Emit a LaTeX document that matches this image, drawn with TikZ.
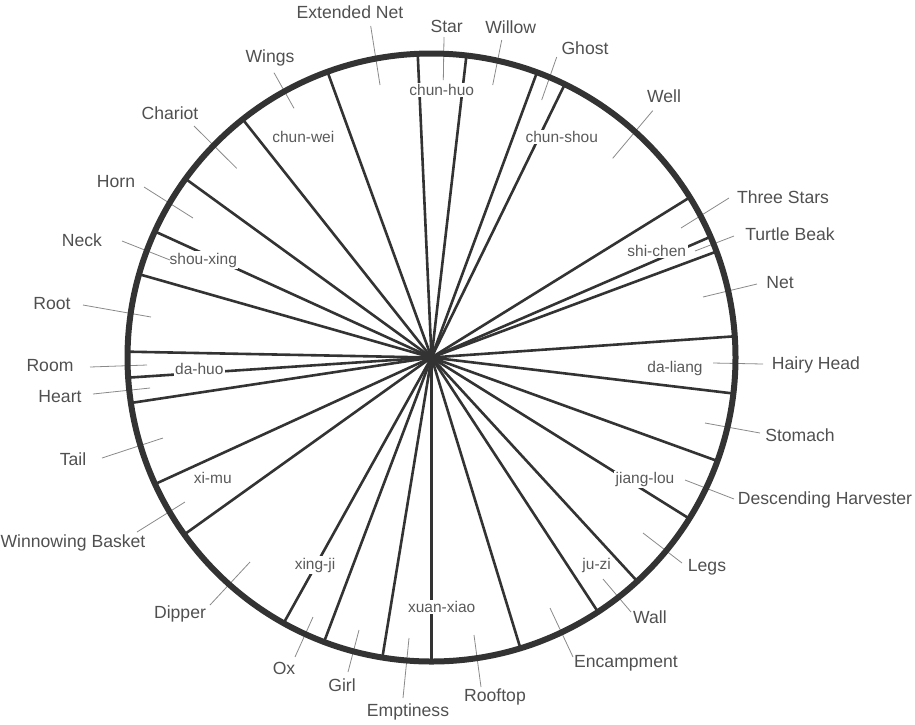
\documentclass[tikz,border=0pt]{standalone}
\usepackage{fontspec}
\setmainfont{Liberation Sans}
\definecolor{spokecol}{HTML}{333333}
\definecolor{leadcol}{HTML}{8A8A8A}
\definecolor{labcol}{HTML}{505050}
\definecolor{innercol}{HTML}{5A5A5A}
\begin{document}
\begin{tikzpicture}[x=1pt,y=1pt,
  spoke/.style={line width=2.6pt, draw=spokecol},
  rim/.style={line width=6pt, draw=spokecol},
  leader/.style={line width=0.8pt, draw=leadcol},
  outer/.style={text=labcol, font=\fontsize{17.6}{20}\selectfont, inner sep=0pt},
  inner/.style={text=innercol, fill=white, font=\fontsize{15.5}{18}\selectfont, inner sep=1.5pt}]
\useasboundingbox (0,0) rectangle (915,-724);
\coordinate (c) at (431.5,-357.5);
% spokes
\foreach \a [count=\i] in {110,92.6,83.4,69.7,64.0,31.8,23.4,20.4,4.0,353.2,340.1,328.0,312.6,303.2,287.0,270,260.7,249.3,240.9,215.6,204.6,188.6,183.8,178.9,164.1,155.5,144.0,128.4}{
  \path (c) ++(\a:304) coordinate (s\i);
  \draw[spoke] (c) -- (s\i);
}
% inner station labels
\foreach \t/\x/\y [count=\i] in {chun-huo/441.7/90, chun-wei/303.3/136.7, chun-shou/561.7/136.7,
  shi-chen/656.7/250.7, da-liang/675/368.3, jiang-lou/645/479.3, ju-zi/596.7/565,
  xuan-xiao/441.7/606.7, xing-ji/315/565, xi-mu/212.7/478.3, da-huo/199.3/369.3, shou-xing/203.3/260}{
  \node[inner] (in\i) at (\x,-\y) {\t};
}
% leaders and outer labels
\foreach \t/\x/\y/\ax/\ay/\bx/\by [count=\i] in {
  Extended Net/350/12/370.7/26/380/85,
  Star/446.7/26/444/37/443.3/80,
  Willow/510.7/27/501.7/40/492.7/85,
  Ghost/585/48/556.7/57/541.7/100,
  Well/664/96/652.7/110.7/612.7/158.3,
  Three Stars/783/197/729/198/681/228,
  Turtle Beak/790/234/734/236/695/251,
  Net/780/283/757/284/703/297,
  Hairy Head/816/365/763/364/713/363,
  Stomach/800/435/760/433/705/423,
  Descending Harvester/825/500/734/499/685/480,
  Legs/707/567/682/563/643/533,
  Wall/650/617/631/612/603/579,
  Encampment/626/663/573/657/550/608,
  Rooftop/495/697/481/687/474/635,
  Emptiness/408/712/403/698/409/638,
  Girl/342/685/348/672/359/630,
  Ox/284/668/295/657/313/617,
  Dipper/180/614/210/605/250/562,
  Winnowing Basket/73/543/137/532/185/502,
  Tail/73/459/102/458/163/438,
  Heart/60/397/93/394/150/388,
  Room/50/366/90/367/147/365,
  Root/52/304/83/305/151/317,
  Neck/82/240/122/241/170/260,
  Horn/116/182/144/187/193/218,
  Chariot/170/113/194/126/236.7/168.3,
  Wings/270/58/274/72.7/294/108.3}{
  \node[outer] (o\i) at (\x,-\y) {\t};
  \coordinate (la\i) at (\ax,-\ay);
  \coordinate (lb\i) at (\bx,-\by);
  \draw[leader] (la\i) -- (lb\i);
}
% rim
\draw[rim] (c) circle[radius=304];
\end{tikzpicture}
\end{document}
